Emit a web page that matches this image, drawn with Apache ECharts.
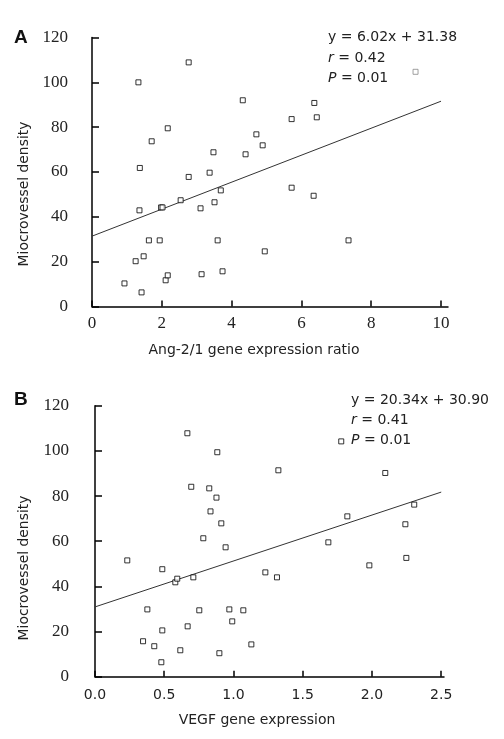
<!DOCTYPE html>
<html><head><meta charset="utf-8">
<script src="https://cdn.jsdelivr.net/npm/echarts@6/dist/echarts.min.js"></script>
<style>html,body{margin:0;padding:0;background:#fff}#c{width:504px;height:739px}</style>
</head><body><div id="c"></div>
<script>
// Panel A: Ang-2/1 gene expression ratio vs microvessel density
const aX = [1.33,2.77,4.32,2.17,1.71,3.48,4.40,1.37,2.77,3.37,6.37,5.72,6.44,4.71,4.89,5.72,3.69,1.36,1.98,2.02,2.54,3.11,3.51,1.63,1.94,3.60,1.25,1.48,0.93,1.42,2.11,2.17,3.14,3.74,6.35,7.35,4.95];
const aY = [100,108.9,92,79.5,73.7,68.8,67.9,61.8,57.8,59.7,90.8,83.6,84.4,76.8,71.9,53.0,51.8,42.9,44.2,44.2,47.4,43.8,46.5,29.5,29.5,29.5,20.2,22.4,10.3,6.3,11.7,13.9,14.4,15.7,49.4,29.5,24.6];
const aOutlierX = [9.27];
const aOutlierY = [104.7];
const aLineX = [0, 10];
const aLineY = [31.38, 91.58];
const aXTicks = [0,2,4,6,8,10];
const aYTicks = [0,20,40,60,80,100,120];
const aText = ['y = 6.02x + 31.38', 'r = 0.42', 'P = 0.01'];

// Panel B: VEGF gene expression vs microvessel density
const bX = [0.667,0.883,0.695,0.825,0.877,0.834,0.912,0.782,0.943,1.778,1.324,2.096,2.305,1.822,2.241,1.685,0.233,0.486,0.580,0.594,0.710,0.378,0.753,0.970,1.071,0.991,0.486,0.669,0.347,0.428,0.616,0.479,0.898,1.129,1.981,2.248,1.230,1.314];
const bY = [107.8,99.4,84.1,83.4,79.3,73.2,67.9,61.3,57.3,104.2,91.4,90.2,76.2,71.0,67.5,59.5,51.5,47.6,41.8,43.4,44.0,29.8,29.4,29.8,29.4,24.5,20.5,22.3,15.7,13.5,11.7,6.4,10.4,14.3,49.3,52.6,46.2,44.0];
const bLineX = [0, 2.5];
const bLineY = [30.90, 81.75];
const bXTicks = [0,0.5,1.0,1.5,2.0,2.5];
const bYTicks = [0,20,40,60,80,100,120];
const bText = ['y = 20.34x + 30.90', 'r = 0.41', 'P = 0.01'];

const yTitle = 'Miocrovessel density';
const aXTitle = 'Ang-2/1 gene expression ratio';
const bXTitle = 'VEGF gene expression';

const zip = (xs, ys) => xs.map((x, i) => [x, ys[i]]);
const serif = '"Liberation Serif", serif';
const sans = '"DejaVu Sans", sans-serif';

function xAxis(idx, max, ticks, font, size, margin, fmt) {
  return {
    gridIndex: idx, type: 'value', min: 0, max: max,
    splitLine: {show: false},
    axisLine: {show: true, onZero: false, lineStyle: {color: '#000', width: 1.5}},
    axisTick: {show: true, inside: true, length: 6, customValues: ticks, lineStyle: {color: '#000', width: 1.5}},
    axisLabel: {customValues: ticks, margin: margin, color: '#222', fontFamily: font, fontSize: size, formatter: fmt}
  };
}
function yAxis(idx, ticks, margin) {
  return {
    gridIndex: idx, type: 'value', min: 0, max: 120, interval: 20,
    splitLine: {show: false},
    axisLine: {show: true, onZero: false, lineStyle: {color: '#000', width: 1.5}},
    axisTick: {show: true, inside: true, length: 7, lineStyle: {color: '#000', width: 1.5}},
    axisLabel: {margin: margin, color: '#222', fontFamily: serif, fontSize: 17}
  };
}
const markerStyle = {color: '#fff', borderColor: '#000', borderWidth: 1};

function eqTexts(lines, x, ys) {
  return lines.map((t, i) => {
    const italic = i > 0;
    const parts = t.split(' = ');
    return {
      type: 'text', left: x, top: ys[i],
      style: {
        text: italic ? '{i|' + parts[0] + '} = ' + parts[1] : t,
        fontFamily: sans, fontSize: 14, fill: '#222',
        rich: {i: {fontStyle: 'italic', fontFamily: sans, fontSize: 14, fill: '#222'}}
      }
    };
  });
}

const chart = echarts.init(document.getElementById('c'), null, {renderer: 'canvas'});
chart.setOption({
  animation: false,
  backgroundColor: '#fff',
  grid: [
    {left: 92, top: 37.5, width: 356, height: 269},
    {left: 95, top: 405.7, width: 349, height: 271}
  ],
  xAxis: [
    xAxis(0, 10.2, aXTicks, serif, 17, 9, v => String(v)),
    xAxis(1, 2.52, bXTicks, sans, 14, 12, v => v.toFixed(1))
  ],
  yAxis: [yAxis(0, aYTicks, 24), yAxis(1, bYTicks, 26)],
  series: [
    {type: 'line', xAxisIndex: 0, yAxisIndex: 0, data: zip(aLineX, aLineY), symbol: 'none', lineStyle: {color: '#333', width: 1}, z: 1},
    {type: 'scatter', xAxisIndex: 0, yAxisIndex: 0, data: zip(aX, aY), symbol: 'rect', symbolSize: 5, itemStyle: markerStyle, z: 2},
    {type: 'scatter', xAxisIndex: 0, yAxisIndex: 0, data: zip(aOutlierX, aOutlierY), symbol: 'rect', symbolSize: 5, itemStyle: {color: '#fff', borderColor: '#888', borderWidth: 1}, z: 2},
    {type: 'line', xAxisIndex: 1, yAxisIndex: 1, data: zip(bLineX, bLineY), symbol: 'none', lineStyle: {color: '#333', width: 1}, z: 1},
    {type: 'scatter', xAxisIndex: 1, yAxisIndex: 1, data: zip(bX, bY), symbol: 'rect', symbolSize: 5, itemStyle: markerStyle, z: 2}
  ],
  graphic: [
    {type: 'text', left: 14, top: 28, style: {text: 'A', fontFamily: '"Liberation Sans", Arial, sans-serif', fontWeight: 'bold', fontSize: 19, fill: '#111'}},
    {type: 'text', left: 14, top: 390, style: {text: 'B', fontFamily: '"Liberation Sans", Arial, sans-serif', fontWeight: 'bold', fontSize: 19, fill: '#111'}},
    ...eqTexts(aText, 328, [30, 51, 71]),
    ...eqTexts(bText, 351, [393, 413, 433]),
    {type: 'text', x: 254, y: 350, style: {text: aXTitle, fontFamily: sans, fontSize: 14, fill: '#222', align: 'center', verticalAlign: 'middle'}},
    {type: 'text', x: 257, y: 720, style: {text: bXTitle, fontFamily: sans, fontSize: 14, fill: '#222', align: 'center', verticalAlign: 'middle'}},
    {type: 'text', x: 24, y: 194, rotation: Math.PI / 2, style: {text: yTitle, fontFamily: sans, fontSize: 13.9, fill: '#222', align: 'center', verticalAlign: 'middle'}},
    {type: 'text', x: 24.5, y: 568, rotation: Math.PI / 2, style: {text: yTitle, fontFamily: sans, fontSize: 13.9, fill: '#222', align: 'center', verticalAlign: 'middle'}}
  ]
});
</script></body></html>
